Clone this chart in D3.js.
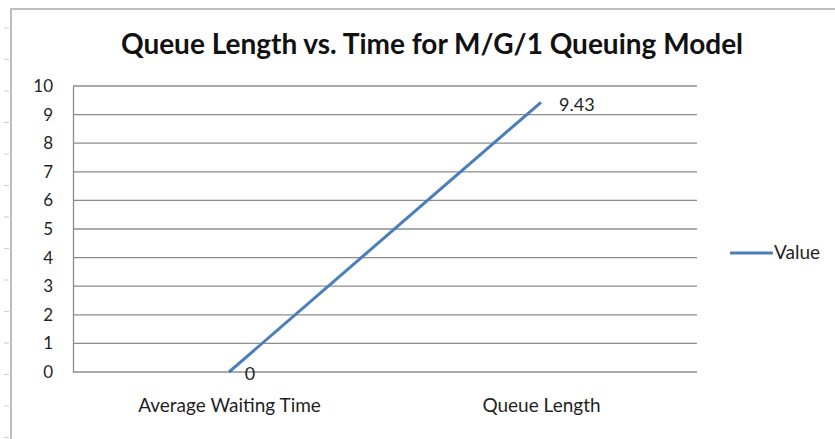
<!DOCTYPE html>
<html>
<head>
<meta charset="utf-8">
<script src="https://cdn.jsdelivr.net/npm/d3@7"></script>
<style>
  body { margin: 0; background: #fff; }
  text { font-family: Lato, "Open Sans", sans-serif; fill: #1f1f1f; }
</style>
</head>
<body>
<div id="chart-area"></div>
<script>
// Chart data
const categories = ["Average Waiting Time", "Queue Length"];
const values = [0, 9.43];
const seriesName = "Value";
const yTicks = [0, 1, 2, 3, 4, 5, 6, 7, 8, 9, 10];
const titleText = "Queue Length vs. Time for M/G/1 Queuing Model";

(function () {
  const W = 835, H = 439;
  const margin = { top: 86, right: 138, bottom: 67, left: 73 };
  const width = W - margin.left - margin.right;
  const height = H - margin.top - margin.bottom;

  const svg = d3.select("#chart-area").append("svg")
    .attr("width", W).attr("height", H);

  // outer frame (left + top border of the chart object)
  svg.append("path")
    .attr("d", `M11,${H} L11,9 L${W},9`)
    .attr("fill", "none").attr("stroke", "#bdbdbd").attr("stroke-width", 2);
  // little sheet row marks left of the frame
  d3.range(28, H, 31.5).forEach((y) => {
    svg.append("line").attr("x1", 4).attr("x2", 9).attr("y1", y).attr("y2", y)
      .attr("stroke", "#c8d0dc").attr("stroke-width", 1);
  });

  svg.append("text")
    .attr("x", 432).attr("y", 54)
    .attr("text-anchor", "middle")
    .attr("font-size", 28).attr("font-weight", "bold")
    .style("fill", "#111")
    .text(titleText);

  const g = svg.append("g").attr("transform", `translate(${margin.left},${margin.top})`);

  const x = d3.scalePoint().domain(categories).range([0, width]).padding(0.5);
  const y = d3.scaleLinear().domain([0, 10]).range([height, 0]);

  // gridlines
  g.selectAll(".grid").data(yTicks).join("line")
    .attr("class", "grid")
    .attr("x1", 0).attr("x2", width)
    .attr("y1", (d) => y(d)).attr("y2", (d) => y(d))
    .attr("stroke", "#8c8c8c").attr("stroke-width", 1.3);

  // y axis
  const yAxis = g.append("g").call(d3.axisLeft(y).tickValues(yTicks).tickSize(0).tickPadding(20));
  yAxis.select(".domain").attr("stroke", "#8c8c8c").attr("stroke-width", 1.3);
  yAxis.selectAll("text").attr("font-size", 17).style("fill", "#1f1f1f");

  // x axis labels
  const xAxis = g.append("g").attr("transform", `translate(0,${height})`)
    .call(d3.axisBottom(x).tickSize(0).tickPadding(27));
  xAxis.select(".domain").remove();
  xAxis.selectAll("text").attr("font-size", 19).style("fill", "#1f1f1f");

  const data = categories.map((c, i) => ({ c, v: values[i] }));
  const line = d3.line().x((d) => x(d.c)).y((d) => y(d.v));

  g.append("path").datum(data)
    .attr("d", line)
    .attr("fill", "none").attr("stroke", "#4a7ebb").attr("stroke-width", 3);

  // data labels
  g.selectAll(".lbl").data(data).join("text")
    .attr("class", "lbl")
    .attr("x", (d, i) => x(d.c) + (i === 0 ? 21 : 18))
    .attr("y", (d, i) => y(d.v) + (i === 0 ? 8 : 9))
    .attr("text-anchor", (d, i) => (i === 0 ? "middle" : "start"))
    .attr("font-size", 18)
    .text((d) => d3.format("")(d.v));

  // legend
  const lg = svg.append("g").attr("transform", `translate(730,253)`);
  lg.append("line").attr("x1", 0).attr("x2", 43).attr("y1", 0).attr("y2", 0)
    .attr("stroke", "#4a7ebb").attr("stroke-width", 3);
  lg.append("text").attr("x", 44).attr("y", 6).attr("font-size", 19).text(seriesName);
})();
</script>
</body>
</html>
